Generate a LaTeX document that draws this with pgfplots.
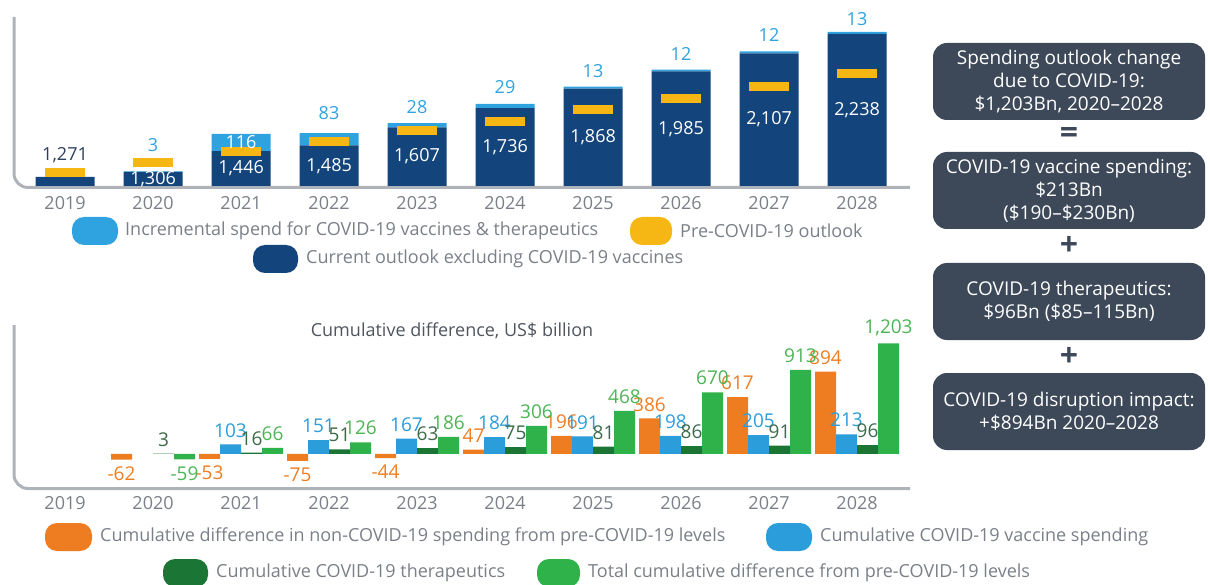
\documentclass[border=0pt]{standalone}
\usepackage{fontspec}
\setmainfont{Open Sans}
\usepackage{pgfplots}
\pgfplotsset{compat=1.18}

\definecolor{navy}{HTML}{13457C}
\definecolor{lblue}{HTML}{2FA3DF}
\definecolor{ylw}{HTML}{F6B614}
\definecolor{orng}{HTML}{EE7D22}
\definecolor{cblue}{HTML}{2A9DDA}
\definecolor{dgreen}{HTML}{1B7635}
\definecolor{lgreen}{HTML}{30B24A}
\definecolor{dglabel}{HTML}{3D6A48}
\definecolor{lglabel}{HTML}{4DB455}
\definecolor{axgray}{HTML}{AEB3BA}
\definecolor{txgray}{HTML}{7A7F88}
\definecolor{boxc}{HTML}{3D4959}
\definecolor{ttl}{HTML}{4F555E}
\definecolor{navylab}{HTML}{2E3F5C}

\newcommand\fs[1]{\fontsize{#1pt}{#1pt}\selectfont}
% legend entry: colour, pill left, pill right, y centre, text left, text
\newcommand\legitem[6]{%
  \fill[#1, rounded corners=12pt] (#2pt,-#4pt+14pt) rectangle (#3pt,-#4pt-14pt);
  \node[anchor=west, inner sep=0pt, text=txgray, font=\fs{18}] at (#5pt,-#4pt) {#6};}

\pgfplotsset{
  topax/.style={at={(14pt,-186pt)}, anchor=south west, scale only axis,
    width=896pt, height=186pt, xmin=-0.58, xmax=9.602, ymin=1210, ymax=2467},
  yrs/.style={xtick={0,...,9},
    xticklabels={2019,2020,2021,2022,2023,2024,2025,2026,2027,2028},
    xticklabel style={font=\fs{18}, text=txgray, yshift=-7pt},
    major tick length=0pt, ytick=\empty, axis line style={draw=none}},
}

\begin{document}
\begin{tikzpicture}
\useasboundingbox (0pt,0pt) rectangle (1210pt,-585pt);

% axis frames with the rounded corner
\draw[axgray, line width=3pt, rounded corners=14pt] (14pt,-17pt) |- (910pt,-187.5pt);
\draw[axgray, line width=3pt, rounded corners=14pt] (14pt,-325pt) |- (910pt,-488.5pt);

% top chart: outlook bars
\begin{axis}[topax, yrs, ybar stacked, bar width=59pt]
\addplot[fill=navy, draw=none] coordinates {
  (0,1271) (1,1306) (2,1446) (3,1485) (4,1607)
  (5,1736) (6,1868) (7,1985) (8,2107) (9,2238)};
\addplot[fill=lblue, draw=none] coordinates {
  (0,0) (1,3) (2,116) (3,83) (4,28)
  (5,29) (6,13) (7,12) (8,12) (9,13)};
\end{axis}

% pre-COVID markers and labels
\begin{axis}[topax, hide axis, clip=false]
\addplot[only marks, mark=-, mark size=20pt,
  mark options={line width=9pt, draw=ylw}] coordinates {
  (0,1301) (1,1372) (2,1440) (3,1514) (4,1585)
  (5,1646) (6,1724) (7,1801) (8,1882) (9,1967)};
\addplot[mark=none, draw=none, nodes near coords, point meta=explicit symbolic,
  every node near coord/.append style={anchor=center, font=\fs{18}, text=white}]
  coordinates {
  (1,1258)[1,306] (2,1328)[1,446] (3,1347.5)[1,485] (4,1408.5)[1,607]
  (5,1473)[1,736] (6,1539)[1,868] (7,1597.5)[1,985] (8,1658.5)[2,107]
  (9,1724)[2,238] (2,1507)[116]};
\addplot[mark=none, draw=none, nodes near coords, point meta=explicit symbolic,
  every node near coord/.append style={anchor=center, font=\fs{18}, text=lblue}]
  coordinates {
  (1,1487)[3] (3,1703)[83] (4,1744)[28] (5,1879)[29]
  (6,1987)[13] (7,2102)[12] (8,2230)[12] (9,2338)[13]};
\addplot[mark=none, draw=none, nodes near coords, point meta=explicit symbolic,
  every node near coord/.append style={anchor=center, font=\fs{18}, text=navylab}]
  coordinates {(0,1420)[1,271]};
\end{axis}

% top legend
\legitem{lblue}{72}{118}{231}{125}{Incremental spend for COVID-19 vaccines \& therapeutics}
\legitem{ylw}{630}{672}{231}{680}{Pre-COVID-19 outlook}
\legitem{navy}{253}{298}{259}{306}{Current outlook excluding COVID-19 vaccines}

% bottom chart: cumulative differences
\begin{axis}[at={(14pt,-487pt)}, anchor=south west, scale only axis,
  width=896pt, height=169pt, xmin=-0.58, xmax=9.602, ymin=-359, ymax=1478,
  yrs, xticklabel style={yshift=1pt}, ybar=0pt, bar width=21pt, clip=false,
  nodes near coords,
  every node near coord/.append style={font=\fs{19}, inner sep=7pt},
  /pgf/number format/assume math mode=true]
\addplot[fill=orng, draw=none, every node near coord/.append style={text=orng}]
  coordinates {(1,-62) (2,-53) (3,-75) (4,-44) (5,47) (6,196) (7,386) (8,617) (9,894)};
\addplot[fill=cblue, draw=none, every node near coord/.append style={text=cblue}]
  coordinates {(2,103) (3,151) (4,167) (5,184) (6,191) (7,198) (8,205) (9,213)};
\addplot[fill=dgreen, draw=none, every node near coord/.append style={text=dglabel}]
  coordinates {(1,3) (2,16) (3,51) (4,63) (5,75) (6,81) (7,86) (8,91) (9,96)};
\addplot[fill=lgreen, draw=none, every node near coord/.append style={text=lglabel}]
  coordinates {(1,-59) (2,66) (3,126) (4,186) (5,306) (6,468) (7,670) (8,913) (9,1203)};
\end{axis}

\node[text=ttl, font=\fs{18}] at (452pt,-331pt) {Cumulative difference, US\$ billion};

% bottom legend
\legitem{orng}{45}{92}{537}{100}{Cumulative difference in non-COVID-19 spending from pre-COVID-19 levels}
\legitem{cblue}{766}{812}{537}{820}{Cumulative COVID-19 vaccine spending}
\legitem{dgreen}{163}{208}{573}{216}{Cumulative COVID-19 therapeutics}
\legitem{lgreen}{537}{580}{573}{588}{Total cumulative difference from pre-COVID-19 levels}

% summary boxes
\tikzset{sbox/.style={fill=boxc, rounded corners=14pt, minimum width=272pt,
  minimum height=77pt, align=center, text=white,
  font=\fontsize{19pt}{23pt}\selectfont}}
\node[sbox] at (1069pt,-81.5pt) {Spending outlook change\\due to COVID-19:\\\$1,203Bn, 2020--2028};
\node[sbox] at (1069pt,-190.5pt) {COVID-19 vaccine spending:\\\$213Bn\\(\$190--\$230Bn)};
\node[sbox] at (1069pt,-301.5pt) {COVID-19 therapeutics:\\\$96Bn (\$85--115Bn)};
\node[sbox] at (1069pt,-411.5pt) {COVID-19 disruption impact:\\+\$894Bn 2020--2028};
\node[text=boxc, font=\fs{32}\bfseries] at (1069pt,-136pt) {=};
\node[text=boxc, font=\fs{32}\bfseries] at (1069pt,-246pt) {+};
\node[text=boxc, font=\fs{32}\bfseries] at (1069pt,-357pt) {+};
\end{tikzpicture}
\end{document}
